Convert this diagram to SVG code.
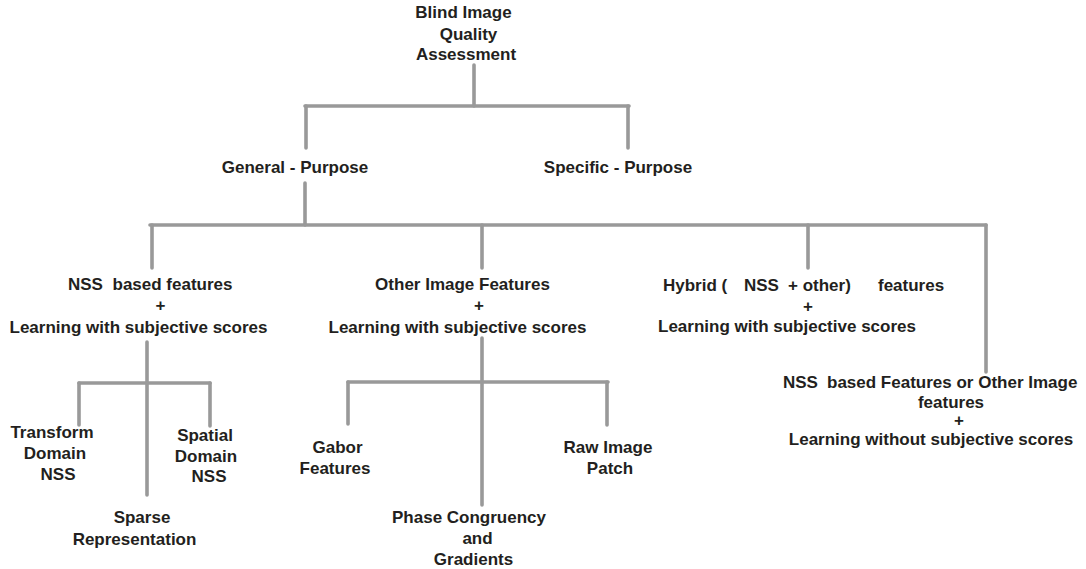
<svg xmlns="http://www.w3.org/2000/svg" width="1086" height="569" viewBox="0 0 1086 569">
<style>
text{font-family:"Liberation Sans",Arial,Helvetica,sans-serif;font-weight:bold;font-size:17px;fill:#231f20}
.m{text-anchor:middle}
.c line{stroke:#999;stroke-width:3.6;stroke-linecap:round}
</style>
<rect width="1086" height="569" fill="#fff"/>
<g class="c" id="connectors">
<line x1="474" y1="65" x2="474" y2="106"/>
<line x1="305" y1="106" x2="629" y2="106"/>
<line x1="306" y1="106" x2="306" y2="148"/>
<line x1="628" y1="106" x2="628" y2="148"/>
<line x1="305" y1="183" x2="305" y2="225"/>
<line x1="150" y1="225" x2="986" y2="225"/>
<line x1="152" y1="225" x2="152" y2="268"/>
<line x1="482" y1="225" x2="482" y2="268"/>
<line x1="808" y1="225" x2="808" y2="268"/>
<line x1="986" y1="225" x2="986" y2="372"/>
<line x1="147" y1="342" x2="147" y2="495"/>
<line x1="79" y1="383" x2="210" y2="383"/>
<line x1="79" y1="383" x2="79" y2="425"/>
<line x1="210" y1="383" x2="210" y2="426"/>
<line x1="482" y1="338" x2="482" y2="505"/>
<line x1="348" y1="382" x2="608" y2="382"/>
<line x1="348" y1="382" x2="348" y2="424"/>
<line x1="607" y1="382" x2="607" y2="425"/>
</g>
<g id="root">
<text class="m" x="463.5" y="18">Blind Image</text>
<text class="m" x="468.5" y="39.5">Quality</text>
<text class="m" x="466" y="60">Assessment</text>
</g>
<g id="general"><text class="m" x="295" y="173">General - Purpose</text></g>
<g id="specific"><text class="m" x="618" y="173">Specific - Purpose</text></g>
<g id="nss">
<text x="68" y="290">NSS</text>
<text x="112.5" y="290">based features</text>
<text class="m" x="160.5" y="311">+</text>
<text class="m" x="138.5" y="333">Learning with subjective scores</text>
</g>
<g id="other">
<text class="m" x="462.5" y="290">Other Image Features</text>
<text class="m" x="479" y="311">+</text>
<text class="m" x="457.5" y="333">Learning with subjective scores</text>
</g>
<g id="hybrid">
<text x="663" y="291">Hybrid (</text>
<text x="744" y="291">NSS</text>
<text x="788" y="291">+ other)</text>
<text x="878" y="291">features</text>
<text class="m" x="808" y="312">+</text>
<text class="m" x="787" y="332">Learning with subjective scores</text>
</g>
<g id="without">
<text x="783" y="388">NSS</text>
<text x="827" y="388">based Features or Other Image</text>
<text class="m" x="951" y="408">features</text>
<text class="m" x="959" y="426">+</text>
<text class="m" x="931" y="445">Learning without subjective scores</text>
</g>
<g id="transform">
<text class="m" x="52" y="438">Transform</text>
<text class="m" x="55" y="459">Domain</text>
<text class="m" x="58" y="480">NSS</text>
</g>
<g id="spatial">
<text class="m" x="205" y="441">Spatial</text>
<text class="m" x="206" y="461.5">Domain</text>
<text class="m" x="209" y="482">NSS</text>
</g>
<g id="sparse">
<text class="m" x="142" y="523">Sparse</text>
<text class="m" x="134.5" y="545">Representation</text>
</g>
<g id="gabor">
<text class="m" x="337.5" y="453">Gabor</text>
<text class="m" x="335" y="474">Features</text>
</g>
<g id="raw">
<text class="m" x="608" y="453">Raw Image</text>
<text class="m" x="610" y="474">Patch</text>
</g>
<g id="phase">
<text class="m" x="469" y="523">Phase Congruency</text>
<text class="m" x="477.5" y="544">and</text>
<text class="m" x="473.5" y="565">Gradients</text>
</g>
</svg>
